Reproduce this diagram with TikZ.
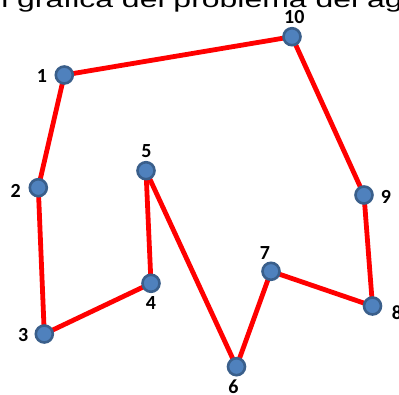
\documentclass[tikz,border=0pt]{standalone}
\usepackage{fontspec}
\setmainfont{Liberation Sans}
\newfontfamily\labfont{Carlito}
\usetikzlibrary{backgrounds}
\definecolor{ptfill}{HTML}{4F81BD}
\definecolor{ptdraw}{HTML}{3A5F8B}
\tikzset{
  pt/.style={circle, fill=ptfill, draw=ptdraw, line width=2.6pt, minimum size=17pt, inner sep=0pt},
  lab/.style={font=\labfont\bfseries\fontsize{20}{21}\selectfont, inner sep=0pt},
  tour/.style={draw=red, line width=4.8pt, line join=round}
}
\begin{document}
\begin{tikzpicture}[x=1pt,y=-1pt]
\useasboundingbox (0,0) rectangle (399,394);
\clip (0,0) rectangle (399,394);
\node[anchor=base west, inner sep=0pt, xscale=1.42, font=\fontsize{22.5}{26}\selectfont] (title) at (1,7) {l gráfica del problema del ag};
\node[pt] (p1) at (64.3,75) {};
\node[pt] (p2) at (38.3,187.7) {};
\node[pt] (p3) at (44.3,334) {};
\node[pt] (p4) at (151,283.3) {};
\node[pt] (p5) at (146,170.7) {};
\node[pt] (p6) at (236.5,366.7) {};
\node[pt] (p7) at (271,271.3) {};
\node[pt] (p8) at (372.5,306) {};
\node[pt] (p9) at (364,195) {};
\node[pt] (p10) at (292,36.7) {};
\begin{pgfonlayer}{background}
\draw[tour] (p1.center) -- (p2.center) -- (p3.center) -- (p4.center) -- (p5.center) -- (p6.center) -- (p7.center) -- (p8.center) -- (p9.center) -- (p10.center) -- cycle;
\end{pgfonlayer}
\node[lab] (l1) at (42,76) {1};
\node[lab] (l2) at (15.7,191) {2};
\node[lab] (l3) at (23.3,335) {3};
\node[lab] (l4) at (151,303.3) {4};
\node[lab] (l5) at (146.5,150.7) {5};
\node[lab] (l6) at (233.5,386.5) {6};
\node[lab] (l7) at (265,252.7) {7};
\node[lab] (l8) at (397,313) {8};
\node[lab] (l9) at (386,196.5) {9};
\node[lab] (l10) at (294.3,16.7) {10};
\end{tikzpicture}
\end{document}
